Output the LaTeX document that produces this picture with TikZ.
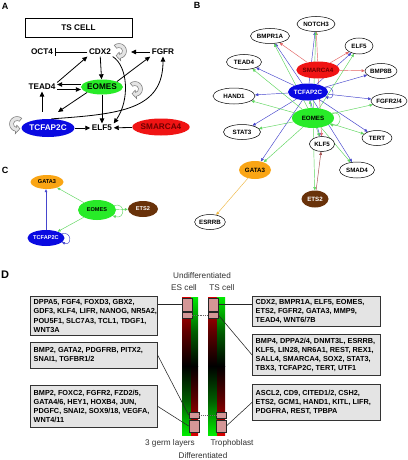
\documentclass[tikz,border=0pt]{standalone}
\usepackage{fontspec}
\setmainfont{Liberation Sans}
\usetikzlibrary{arrows.meta,shapes.geometric,calc}
\pgfdeclarelayer{bgfill}
\pgfdeclarelayer{edges}
\pgfsetlayers{bgfill,edges,main}
\definecolor{eogreen}{RGB}{40,235,40}
\definecolor{tcblue}{RGB}{10,10,225}
\definecolor{smred}{RGB}{240,20,20}
\definecolor{gaorange}{RGB}{250,165,20}
\definecolor{etbrown}{RGB}{105,50,10}
\definecolor{boxgray}{RGB}{228,228,228}
\definecolor{pinkbox}{RGB}{212,150,150}
\definecolor{eRed}{RGB}{228,100,100}
\definecolor{eBlue}{RGB}{70,70,205}
\definecolor{eGreen}{RGB}{95,215,95}
\definecolor{eBrown}{RGB}{165,75,75}
\definecolor{eOrange}{RGB}{240,185,70}
\definecolor{loopgray}{RGB}{228,228,228}
\definecolor{smtext}{RGB}{110,0,0}
\definecolor{dtext}{RGB}{50,50,50}
\definecolor{barred}{RGB}{215,0,0}
\definecolor{bargreen}{RGB}{0,235,0}
\begin{document}
\begin{tikzpicture}[x=1pt,y=-1pt,
  plbl/.style={font=\fontsize{9}{10}\selectfont\bfseries, inner sep=0},
  an/.style={font=\fontsize{8.2}{10}\selectfont\bfseries, inner sep=1.5pt},
  ae/.style={ellipse, inner sep=0, font=\fontsize{8.2}{10}\selectfont\bfseries},
  aarr/.style={-{Triangle[length=5pt,width=4.5pt]}, line width=0.8pt},
  loopsh/.style={fill=loopgray, draw=black!55, line width=0.5pt},
  bn/.style={ellipse, draw=black, line width=0.5pt, fill=white, inner sep=0, minimum height=15, font=\fontsize{6.2}{7}\selectfont\bfseries},
  bf/.style={ellipse, inner sep=0, minimum height=17, font=\fontsize{6.2}{7}\selectfont\bfseries},
  barr/.style={-{Triangle[length=3.2pt,width=2.8pt]}, line width=0.45pt},
  cn/.style={ellipse, inner sep=0, font=\fontsize{5.6}{7}\selectfont\bfseries},
  carr/.style={-{Triangle[length=3pt,width=2.6pt]}, line width=0.45pt},
  dbox/.style={draw=black!80, line width=0.8pt, fill=boxgray, anchor=north west, inner sep=0pt},
  dtxt/.style={anchor=west, inner sep=0pt, align=left, font=\fontsize{7.3}{9.2}\selectfont\bfseries},
  pbox/.style={draw=black!85, line width=0.7pt, fill=pinkbox, inner sep=0},
  dl/.style={font=\fontsize{8.2}{10}\selectfont, text=dtext, inner sep=0},
  dcon/.style={line width=0.55pt, draw=black!85},
  dots/.style={line width=0.9pt, draw=black!60, dash pattern=on 0.9pt off 0.9pt},
]
\useasboundingbox (0,0) rectangle (407,460);
\begin{pgfonlayer}{bgfill}
\fill[white] (0,0) rectangle (407,460);
\end{pgfonlayer}

% ---------------- Panel A ----------------
\node[plbl] (labA) at (5,6) {A};
\node[draw, line width=0.7pt, minimum width=107, minimum height=19, inner sep=0, font=\fontsize{8.2}{10}\selectfont\bfseries] (tsbox) at (78.5,27.5) {TS CELL};
\node[an] (octA) at (42,52) {OCT4};
\node[an] (cdxA) at (100,52) {CDX2};
\node[an] (fgfrA) at (163,52) {FGFR};
\node[an] (teadA) at (42,87) {TEAD4};
\node[ae, fill=eogreen, minimum width=34, minimum height=15] (eoA) at (102,87) {EOMES};
\node[ae, fill=tcblue, text=white, minimum width=49, minimum height=18] (tcA) at (48,128) {TCFAP2C};
\node[an] (elfA) at (102,128) {ELF5};
\node[ae, fill=smred, text=smtext, minimum width=43, minimum height=17] (smA) at (161,127) {SMARCA4};
\coordinate (cdxin) at (131,52);
\coordinate (tcin) at (58,112);

\begin{scope}[shift={(119,51)}]
\filldraw[loopsh] (230:7.5) arc[start angle=230,end angle=440,radius=7.5] -- (440:9.8) -- (482:5.5) -- (440:1.2) -- (440:3.5) arc[start angle=440,end angle=230,radius=3.5] -- cycle;
\end{scope}
\begin{scope}[shift={(135,89)}]
\filldraw[loopsh] (230:7.5) arc[start angle=230,end angle=440,radius=7.5] -- (440:9.8) -- (482:5.5) -- (440:1.2) -- (440:3.5) arc[start angle=440,end angle=230,radius=3.5] -- cycle;
\end{scope}
\begin{scope}[shift={(17,124)}, xscale=-1]
\filldraw[loopsh] (230:7.5) arc[start angle=230,end angle=440,radius=7.5] -- (440:9.8) -- (482:5.5) -- (440:1.2) -- (440:3.5) arc[start angle=440,end angle=230,radius=3.5] -- cycle;
\end{scope}

\draw[line width=0.8pt, -{Bar[width=8pt,line width=0.8pt]}] (cdxA) -- (octA);
\draw[aarr] (fgfrA) -- (cdxin);
\draw[aarr] (teadA.north east) -- (cdxA.south west);
\draw[aarr] (cdxA) -- (eoA);
\draw[aarr] (eoA.north east) -- (fgfrA.south west);
\draw[aarr] ([yshift=2.5pt]eoA.west) -- ([yshift=2.5pt]eoA.west -| teadA.east);
\draw[aarr] ([yshift=-2.5pt]teadA.east) -- ([yshift=-2.5pt]teadA.east -| eoA.west);
\draw[aarr, shorten <=7pt] (tcA.north -| teadA.south) -- (teadA.south);
\draw[aarr] (eoA.south west) -- (tcin);
\draw[aarr] (eoA) -- (elfA);
\draw[aarr] (cdxA.south east) .. controls (128,66) and (130,100) .. (elfA.north east);
\draw[aarr] (tcA.70) .. controls (120,114) and (163,110) .. (fgfrA.south);
\draw[aarr] (tcA) -- (elfA);
\draw[aarr] (smA) -- (elfA);

% ---------------- Panel B ----------------
\node[plbl] (labB) at (197,5) {B};
\node[bn, minimum width=38] (bNotch) at (316,24) {NOTCH3};
\node[bn, minimum width=39] (bBmpr) at (270,36) {BMPR1A};
\node[bn, minimum width=28, minimum height=16] (bElf) at (359,46) {ELF5};
\node[bn, minimum width=35] (bTead) at (244,62) {TEAD4};
\node[bf, fill=smred, text=smtext, minimum width=37] (bSm) at (318,70) {SMARCA4};
\node[bn, minimum width=32] (bBmp8) at (381,71) {BMP8B};
\node[bf, fill=tcblue, text=white, minimum width=40] (bTc) at (308,92) {TCFAP2C};
\node[bn, minimum width=42, minimum height=16] (bHand) at (234,96) {HAND1};
\node[bn, minimum width=34] (bFgfr) at (389,101) {FGFR2/4};
\node[bf, fill=eogreen, minimum width=42, minimum height=20] (bEo) at (313,118) {EOMES};
\node[bn, minimum width=37] (bStat) at (242,132) {STAT3};
\node[bn, minimum width=30] (bTert) at (377,138) {TERT};
\node[bn, minimum width=25] (bKlf) at (322,144) {KLF5};
\node[bn, minimum width=35, minimum height=16] (bSmad) at (357,170) {SMAD4};
\node[bf, fill=gaorange, minimum width=32, minimum height=18] (bGata) at (255,170) {GATA3};
\node[bf, fill=etbrown, text=white, minimum width=27, minimum height=17] (bEts) at (315,199) {ETS2};
\node[bn, minimum width=28] (bEsrrb) at (210,222) {ESRRB};

\begin{pgfonlayer}{edges}
\foreach \t in {bNotch,bBmpr,bElf,bBmp8,bKlf} \draw[barr,eRed] (bSm) -- (\t);
\foreach \t in {bNotch,bBmpr,bElf,bTead,bHand,bBmp8,bFgfr,bStat,bTert,bKlf,bSmad,bGata} \draw[barr,eBlue] (bTc) -- (\t);
\foreach \t in {bNotch,bBmpr,bElf,bTead,bHand,bFgfr,bStat,bTert,bKlf,bSmad,bGata,bEts,bTc} \draw[barr,eGreen] (bEo) -- (\t);
\draw[barr,eBrown] (bEts) -- (bKlf);
\draw[barr,eOrange] (bGata) -- (bEsrrb);
\end{pgfonlayer}
\draw[barr,eGreen] (bEo.15) .. controls +(12,-3) and +(12,4) .. (bEo.-20);
\draw[barr,eBlue] (bTc.15) .. controls +(10,-3) and +(10,4) .. (bTc.-15);

% ---------------- Panel C ----------------
\node[plbl] (labC) at (5,170) {C};
\node[cn, fill=gaorange, minimum width=33, minimum height=14] (gaC) at (47,182) {GATA3};
\node[cn, fill=eogreen, minimum width=38, minimum height=20] (eoC) at (97,210) {EOMES};
\node[cn, fill=etbrown, text=white, minimum width=30, minimum height=16] (etC) at (143,209) {ETS2};
\node[cn, fill=tcblue, text=white, minimum width=37, minimum height=16] (tcC) at (46,238) {TCFAP2C};
\draw[carr, eGreen] (eoC) -- (gaC);
\draw[carr, eBlue] (tcC.north) -- (tcC.north |- gaC.south);
\draw[carr, eGreen] (eoC) -- (tcC);
\draw[carr, eGreen] (eoC) -- (etC);
\draw[carr, eGreen] (eoC.15) .. controls +(12,-3) and +(12,4) .. (eoC.-20);
\draw[carr, eBlue] (tcC.15) .. controls +(10,-3) and +(10,4) .. (tcC.-15);

% ---------------- Panel D ----------------
\node[plbl, font=\fontsize{11}{12}\selectfont\bfseries] (labD) at (5,275) {D};
\node[dl] (undiff) at (202,276) {Undifferentiated};
\node[dl] (escell) at (184,288) {ES cell};
\node[dl] (tscell) at (222,288) {TS cell};
\node[dl] (germ) at (170,443) {3 germ layers};
\node[dl] (troph) at (232,443) {Trophoblast};
\node[dl] (diff) at (203,456) {Differentiated};

\shade[top color=barred, bottom color=black, middle color=barred!45!black] (182,297) rectangle (191,366);
\shade[top color=black, bottom color=bargreen, middle color=bargreen!40!black] (182,366) rectangle (191,435);
\shade[top color=bargreen, bottom color=black, middle color=bargreen!40!black] (191,297) rectangle (198,366);
\shade[top color=black, bottom color=barred, middle color=barred!45!black] (191,366) rectangle (198,435);
\shade[top color=barred, bottom color=black, middle color=barred!45!black] (208,297) rectangle (217,366);
\shade[top color=black, bottom color=bargreen, middle color=bargreen!40!black] (208,366) rectangle (217,435);
\shade[top color=bargreen, bottom color=black, middle color=bargreen!40!black] (217,297) rectangle (225,366);
\shade[top color=black, bottom color=barred, middle color=barred!45!black] (217,366) rectangle (225,435);

\node[pbox, minimum width=10, minimum height=13] (esT) at (187,304.5) {};
\node[pbox, minimum width=10, minimum height=6] (esT2) at (187,315) {};
\node[pbox, minimum width=10, minimum height=13] (tsT) at (213,304.5) {};
\node[pbox, minimum width=10, minimum height=6] (tsT2) at (213,315) {};
\node[pbox, minimum width=10, minimum height=6] (esB1) at (194,415) {};
\node[pbox, minimum width=10, minimum height=12] (esB2) at (194,426) {};
\node[pbox, minimum width=10, minimum height=6] (tsB1) at (221,415) {};
\node[pbox, minimum width=10, minimum height=12] (tsB2) at (221,426) {};

\node[dbox, minimum width=127, minimum height=39] (l1) at (30,296) {};
\node[dtxt] (l1t) at ([xshift=3.5pt]l1.west) {DPPA5, FGF4, FOXD3, GBX2,\\GDF3, KLF4, LIFR, NANOG, NR5A2,\\POU5F1, SLC7A3, TCL1, TDGF1,\\WNT3A};
\node[dbox, minimum width=127, minimum height=26] (l2) at (30,342) {};
\node[dtxt] (l2t) at ([xshift=3.5pt]l2.west) {BMP2, GATA2, PDGFRB, PITX2,\\SNAI1, TGFBR1/2};
\node[dbox, minimum width=127, minimum height=42] (l3) at (30,385) {};
\node[dtxt] (l3t) at ([xshift=3.5pt]l3.west) {BMP2, FOXC2, FGFR2, FZD2/5,\\GATA4/6, HEY1, HOXB4, JUN,\\PDGFC, SNAI2, SOX9/18, VEGFA,\\WNT4/11};
\node[dbox, minimum width=128, minimum height=30] (r1) at (252,296) {};
\node[dtxt] (r1t) at ([xshift=3.5pt]r1.west) {CDX2, BMPR1A, ELF5, EOMES,\\ETS2, FGFR2, GATA3, MMP9,\\TEAD4, WNT6/7B};
\node[dbox, minimum width=128, minimum height=41] (r2) at (252,334) {};
\node[dtxt] (r2t) at ([xshift=3.5pt]r2.west) {BMP4, DPPA2/4, DNMT3L, ESRRB,\\KLF5, LIN28, NR6A1, REST, REX1,\\SALL4, SMARCA4, SOX2, STAT3,\\TBX3, TCFAP2C, TERT, UTF1};
\node[dbox, minimum width=128, minimum height=36] (r3) at (252,384) {};
\node[dtxt] (r3t) at ([xshift=3.5pt]r3.west) {ASCL2, CD9, CITED1/2, CSH2,\\ETS2, GCM1, HAND1, KITL, LIFR,\\PDGFRA, REST, TPBPA};

\draw[dcon] (esT.west) -- (esT.west -| l1.east);
\draw[dcon] (l2.east) -- (esB1.west);
\draw[dcon] (l3.east) -- (esB2.west);
\draw[dcon] (tsT.east) -- (tsT.east -| r1.west);
\draw[dcon] (tsT2.east) -- (r2.west);
\draw[dcon] (tsB2.east) -- (r3.west);
\draw[dots] (esT2.east) -- (tsT2.west);
\draw[dots] (esB1.east) -- (tsB1.west);
\end{tikzpicture}
\end{document}
